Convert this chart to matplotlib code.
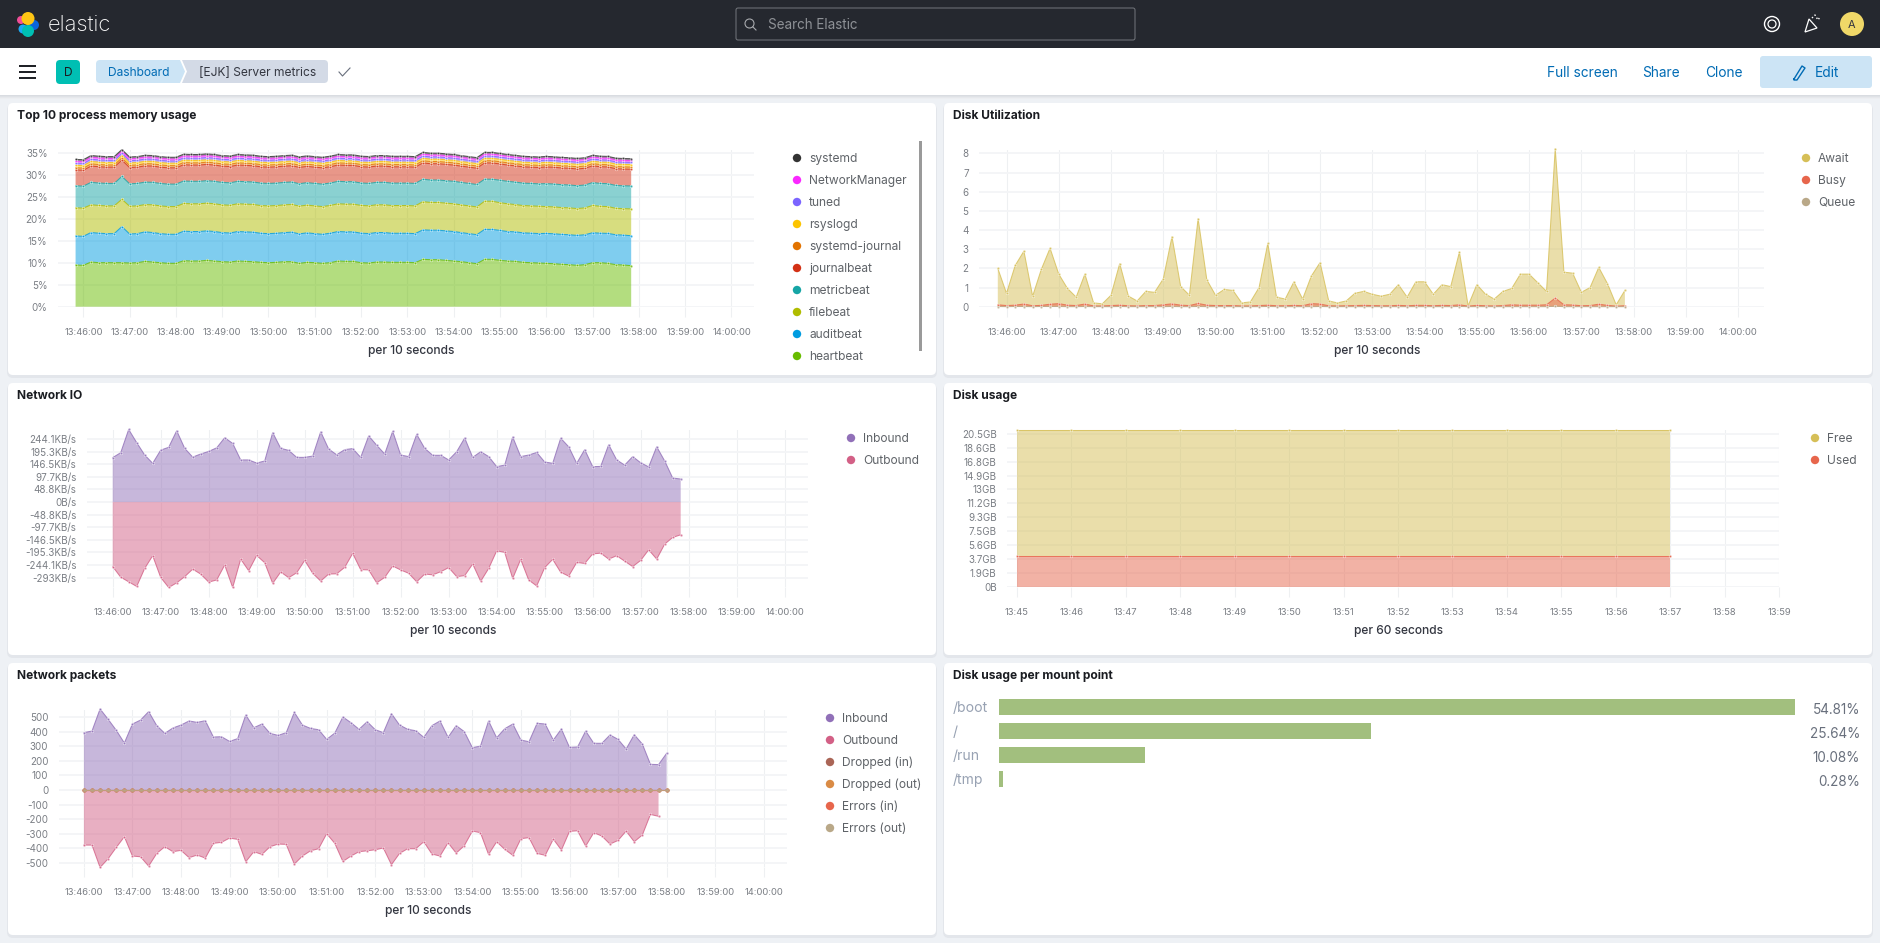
import numpy as np
import matplotlib
matplotlib.use("Agg")
import matplotlib.pyplot as plt
from matplotlib.patches import FancyBboxPatch, Rectangle, Circle, Polygon

plt.rcParams["font.family"] = ["Inter", "DejaVu Sans"]

W, H = 1880, 943

# clock labels
clock_labels = ["13:46:00", "13:47:00", "13:48:00", "13:49:00", "13:50:00", "13:51:00", "13:52:00", "13:53:00",
                "13:54:00", "13:55:00", "13:56:00", "13:57:00", "13:58:00", "13:59:00", "14:00:00"]
clock_seconds = [0, 60, 120, 180, 240, 300, 360, 420, 480, 540, 600, 660, 720, 780, 840]
disk_labels = ["13:45", "13:46", "13:47", "13:48", "13:49", "13:50", "13:51", "13:52", "13:53", "13:54", "13:55",
               "13:56", "13:57", "13:58", "13:59"]

# Top 10 process memory usage (percent, bottom layer first), sampled from -10 s every 10 s
heartbeat = [9.47, 9.39, 10.15, 10.0, 10.0, 10.0, 10.0, 9.92, 10.0, 10.3, 10.15, 10.0, 9.85, 9.85, 10.45, 10.38,
             10.38, 10.53, 10.38, 10.23, 10.15, 10.38, 10.3, 10.23, 10.08, 10.0, 10.08, 10.23, 10.23, 9.85, 10.08,
             10.0, 9.85, 10.0, 10.38, 10.3, 10.3, 10.0, 9.92, 10.15, 10.15, 10.08, 10.08, 10.08, 10.0, 10.76, 10.68,
             10.68, 10.53, 10.38, 10.23, 10.0, 9.77, 10.76, 10.76, 10.53, 10.38, 10.3, 10.08, 10.0, 9.92, 9.85, 9.77,
             9.62, 9.55, 9.39, 9.55, 10.0, 10.0, 9.85, 9.55, 9.47, 9.32]
auditbeat = [6.6, 6.6, 6.7, 6.7, 6.6, 6.6, 8.2, 6.6, 6.6, 6.7, 6.7, 6.6, 6.6, 6.6, 6.7, 6.7, 6.7, 6.7, 6.7, 6.6, 6.6,
             6.7, 6.7, 6.7, 6.6, 6.6, 6.6, 6.6, 6.7, 6.7, 6.7, 6.6, 6.6, 6.7, 6.7, 6.7, 6.7, 6.7, 6.7, 6.7, 6.7, 6.6,
             6.6, 6.6, 6.6, 6.7, 6.7, 6.7, 6.7, 6.7, 6.6, 6.6, 6.6, 6.8, 6.8, 6.8, 6.7, 6.7, 6.7, 6.7, 6.7, 6.8, 6.8,
             6.8, 6.8, 6.8, 6.8, 6.8, 6.7, 6.8, 6.8, 6.8, 6.8]
filebeat = [6.4, 6.4, 6.3, 6.3, 6.3, 6.3, 6.2, 6.3, 6.3, 6.2, 6.3, 6.3, 6.3, 6.3, 6.3, 6.3, 6.3, 6.3, 6.3, 6.3, 6.3,
            6.3, 6.3, 6.3, 6.3, 6.3, 6.3, 6.3, 6.3, 6.3, 6.3, 6.3, 6.3, 6.3, 6.3, 6.3, 6.3, 6.3, 6.3, 6.3, 6.3, 6.3,
            6.3, 6.3, 6.3, 6.4, 6.3, 6.3, 6.3, 6.3, 6.3, 6.3, 6.3, 6.4, 6.4, 6.3, 6.3, 6.2, 6.2, 6.2, 6.2, 6.1, 6.1,
            6.1, 6.1, 6.1, 6.1, 6.2, 6.1, 6.1, 6.0, 6.0, 6.1]
metricbeat = [5.0, 5.0, 5.1, 5.1, 5.1, 5.1, 5.2, 5.1, 5.1, 5.1, 5.1, 5.1, 5.1, 5.1, 5.1, 5.1, 5.1, 5.1, 5.1, 5.1, 5.1,
              5.1, 5.1, 5.1, 5.1, 5.1, 5.1, 5.1, 5.1, 5.1, 5.1, 5.1, 5.1, 5.1, 5.1, 5.1, 5.1, 5.1, 5.1, 5.1, 5.1, 5.1,
              5.1, 5.1, 5.1, 5.1, 5.1, 5.1, 5.1, 5.1, 5.1, 5.1, 5.1, 5.0, 5.0, 5.1, 5.1, 5.1, 5.1, 5.1, 5.1, 5.2, 5.2,
              5.2, 5.2, 5.2, 5.2, 5.2, 5.2, 5.2, 5.2, 5.2, 5.2]
journalbeat = [3.6, 3.6, 3.7, 3.7, 3.7, 3.7, 3.7, 3.7, 3.7, 3.7, 3.7, 3.7, 3.7, 3.7, 3.7, 3.7, 3.7, 3.7, 3.7, 3.7, 3.7,
               3.7, 3.7, 3.7, 3.7, 3.7, 3.7, 3.7, 3.7, 3.7, 3.7, 3.7, 3.7, 3.7, 3.7, 3.7, 3.7, 3.7, 3.7, 3.7, 3.7, 3.7,
               3.7, 3.7, 3.7, 3.7, 3.7, 3.7, 3.7, 3.7, 3.7, 3.7, 3.7, 3.7, 3.7, 3.7, 3.7, 3.7, 3.7, 3.7, 3.7, 3.8, 3.8,
               3.8, 3.8, 3.8, 3.8, 3.8, 3.8, 3.8, 3.8, 3.8, 3.8]
systemd_journal = [0.5, 0.5, 0.5, 0.5, 0.5, 0.5, 0.5, 0.5, 0.5, 0.5, 0.5, 0.5, 0.5, 0.5, 0.5, 0.5, 0.5, 0.5, 0.5, 0.5, 0.5,
                   0.5, 0.5, 0.5, 0.5, 0.5, 0.5, 0.5, 0.5, 0.5, 0.5, 0.5, 0.5, 0.5, 0.5, 0.5, 0.5, 0.5, 0.5, 0.5, 0.5,
                   0.5, 0.5, 0.5, 0.5, 0.5, 0.5, 0.5, 0.5, 0.5, 0.5, 0.5, 0.5, 0.5, 0.5, 0.5, 0.5, 0.5, 0.5, 0.5, 0.5,
                   0.5, 0.5, 0.5, 0.5, 0.5, 0.5, 0.5, 0.5, 0.5, 0.5, 0.5, 0.5]
rsyslogd = [0.55, 0.55, 0.55, 0.55, 0.55, 0.55, 0.55, 0.55, 0.55, 0.55, 0.55, 0.55, 0.55, 0.55, 0.55, 0.55, 0.55, 0.55,
            0.55, 0.55, 0.55, 0.55, 0.55, 0.55, 0.55, 0.55, 0.55, 0.55, 0.55, 0.55, 0.55, 0.55, 0.55, 0.55, 0.55, 0.55,
            0.55, 0.55, 0.55, 0.55, 0.55, 0.55, 0.55, 0.55, 0.55, 0.55, 0.55, 0.55, 0.55, 0.55, 0.55, 0.55, 0.55, 0.55,
            0.55, 0.55, 0.55, 0.55, 0.55, 0.55, 0.55, 0.55, 0.55, 0.55, 0.55, 0.55, 0.55, 0.55, 0.55, 0.55, 0.55, 0.55,
            0.55]
tuned = [0.5, 0.5, 0.5, 0.5, 0.5, 0.5, 0.5, 0.5, 0.5, 0.5, 0.5, 0.5, 0.5, 0.5, 0.5, 0.5, 0.5, 0.5, 0.5, 0.5, 0.5,
         0.5, 0.5, 0.5, 0.5, 0.5, 0.5, 0.5, 0.5, 0.5, 0.5, 0.5, 0.5, 0.5, 0.5, 0.5, 0.5, 0.5, 0.5, 0.5, 0.5,
         0.5, 0.5, 0.5, 0.5, 0.5, 0.5, 0.5, 0.5, 0.5, 0.5, 0.5, 0.5, 0.5, 0.5, 0.5, 0.5, 0.5, 0.5, 0.5, 0.5,
         0.5, 0.5, 0.5, 0.5, 0.5, 0.5, 0.5, 0.5, 0.5, 0.5, 0.5, 0.5]
network_manager = [0.45, 0.45, 0.45, 0.45, 0.45, 0.45, 0.45, 0.45, 0.45, 0.45, 0.45, 0.45, 0.45, 0.45, 0.45, 0.45, 0.45,
                   0.45, 0.45, 0.45, 0.45, 0.45, 0.45, 0.45, 0.45, 0.45, 0.45, 0.45, 0.45, 0.45, 0.45, 0.45, 0.45, 0.45,
                   0.45, 0.45, 0.45, 0.45, 0.45, 0.45, 0.45, 0.45, 0.45, 0.45, 0.45, 0.45, 0.45, 0.45, 0.45, 0.45, 0.45,
                   0.45, 0.45, 0.45, 0.45, 0.45, 0.45, 0.45, 0.45, 0.45, 0.45, 0.45, 0.45, 0.45, 0.45, 0.45, 0.45, 0.45,
                   0.45, 0.45, 0.45, 0.45, 0.45]
systemd = [0.4, 0.4, 0.4, 0.4, 0.4, 0.4, 0.4, 0.4, 0.4, 0.4, 0.4, 0.4, 0.4, 0.4, 0.4, 0.4, 0.4, 0.4, 0.4, 0.4, 0.4,
           0.4, 0.4, 0.4, 0.4, 0.4, 0.4, 0.4, 0.4, 0.4, 0.4, 0.4, 0.4, 0.4, 0.4, 0.4, 0.4, 0.4, 0.4, 0.4, 0.4,
           0.4, 0.4, 0.4, 0.4, 0.4, 0.4, 0.4, 0.4, 0.4, 0.4, 0.4, 0.4, 0.4, 0.4, 0.4, 0.4, 0.4, 0.4, 0.4, 0.4,
           0.4, 0.4, 0.4, 0.4, 0.4, 0.4, 0.4, 0.4, 0.4, 0.4, 0.4, 0.4]
memory_names = ["systemd", "NetworkManager", "tuned", "rsyslogd", "systemd-journal", "journalbeat", "metricbeat",
                "filebeat", "auditbeat", "heartbeat"]
memory_colors = ["#333333", "#fa28ff", "#7b64ff", "#fcc400", "#e27300", "#d33115", "#16a5a5", "#b0bc00", "#009ce0",
                 "#68bc00"]
memory_ticks = [0, 5, 10, 15, 20, 25, 30, 35]

# Disk Utilization
disk_await = [2.0, 0.7, 2.15, 2.9, 0.55, 1.95, 3.05, 1.7, 0.95, 0.5, 1.7, 0.2, 0.15, 0.6, 2.25, 0.55, 0.3, 0.8, 0.75,
              1.45, 3.65, 1.05, 0.6, 4.6, 1.4, 0.6, 0.9, 0.85, 0.2, 0.25, 1.0, 3.3, 0.5, 0.4, 1.3, 0.4, 1.6, 2.3, 0.3,
              0.2, 0.3, 0.7, 0.8, 0.65, 0.55, 0.65, 1.15, 0.5, 1.3, 1.3, 0.65, 1.15, 1.05, 2.85, 0.05, 1.15, 0.65, 0.4,
              0.8, 0.95, 1.7, 1.7, 1.25, 0.8, 8.25, 1.8, 1.75, 0.75, 1.0, 2.05, 1.2, 0.1, 0.85]
disk_busy = [0.1, 0.06, 0.08, 0.14, 0.05, 0.07, 0.13, 0.16, 0.08, 0.06, 0.14, 0.04, 0.04, 0.06, 0.08, 0.05, 0.04, 0.06,
             0.06, 0.1, 0.15, 0.08, 0.06, 0.17, 0.08, 0.06, 0.06, 0.06, 0.04, 0.04, 0.06, 0.08, 0.05, 0.05, 0.07, 0.05,
             0.16, 0.14, 0.05, 0.04, 0.05, 0.06, 0.07, 0.06, 0.05, 0.05, 0.07, 0.05, 0.07, 0.07, 0.05, 0.07, 0.06, 0.1,
             0.03, 0.07, 0.05, 0.04, 0.06, 0.1, 0.08, 0.08, 0.08, 0.1, 0.45, 0.1, 0.09, 0.05, 0.06, 0.13, 0.07, 0.03,
             0.05]
disk_queue = [0.01, 0.0, 0.01, 0.01, 0.0, 0.01, 0.01, 0.01, 0.0, 0.0, 0.01, 0.0, 0.0, 0.0, 0.01, 0.0, 0.0, 0.0, 0.0,
              0.0, 0.01, 0.0, 0.0, 0.01, 0.0, 0.0, 0.0, 0.0, 0.0, 0.0, 0.0, 0.01, 0.0, 0.0, 0.0, 0.0, 0.0, 0.01, 0.0,
              0.0, 0.0, 0.0, 0.0, 0.0, 0.0, 0.0, 0.0, 0.0, 0.0, 0.0, 0.0, 0.0, 0.0, 0.01, 0.0, 0.0, 0.0, 0.0, 0.0,
              0.0, 0.0, 0.0, 0.0, 0.0, 0.03, 0.0, 0.0, 0.0, 0.0, 0.0, 0.0, 0.0, 0.0]
disk_ticks = [0, 1, 2, 3, 4, 5, 6, 7, 8]

# Network IO (KB/s), sampled from 0 s every 10 s
io_inbound = [172, 191, 281, 230, 182, 150, 201, 212, 276, 208, 174, 186, 196, 210, 249, 227, 163, 163, 151, 159, 269,
              208, 200, 173, 173, 178, 272, 205, 183, 203, 207, 173, 256, 220, 186, 274, 182, 176, 262, 208, 181, 181,
              163, 195, 248, 173, 195, 176, 137, 143, 252, 176, 182, 192, 155, 150, 247, 214, 150, 203, 137, 138, 222,
              163, 143, 176, 152, 136, 214, 159, 93, 89]
io_outbound = [-250, -291, -309, -327, -257, -208, -292, -331, -313, -289, -260, -279, -310, -302, -244, -331, -221,
               -266, -207, -235, -315, -271, -293, -274, -226, -276, -306, -279, -278, -253, -199, -262, -263, -313,
               -292, -248, -263, -276, -309, -279, -282, -270, -254, -289, -285, -240, -307, -257, -189, -195, -296,
               -222, -302, -325, -254, -222, -272, -287, -234, -238, -201, -198, -221, -208, -229, -250, -226, -185,
               -221, -163, -137, -127]
io_ticks = [-293, -244.1, -195.3, -146.5, -97.7, -48.8, 0, 48.8, 97.7, 146.5, 195.3, 244.1]
io_tick_labels = ["-293KB/s", "-244.1KB/s", "-195.3KB/s", "-146.5KB/s", "-97.7KB/s", "-48.8KB/s", "0B/s", "48.8KB/s",
                  "97.7KB/s", "146.5KB/s", "195.3KB/s", "244.1KB/s"]

# Network packets
pk_inbound = [393, 404, 555, 484, 409, 322, 452, 479, 537, 441, 388, 425, 445, 473, 463, 475, 363, 365, 333, 352, 514,
              427, 452, 388, 374, 393, 532, 445, 422, 413, 347, 390, 500, 461, 416, 468, 413, 393, 523, 445, 416, 406,
              361, 441, 473, 361, 441, 400, 290, 301, 473, 358, 420, 452, 342, 331, 457, 452, 342, 418, 292, 295, 404,
              320, 320, 377, 347, 281, 379, 315, 176, 174, 251]
pk_outbound = [-377, -377, -530, -470, -393, -320, -452, -457, -521, -434, -388, -422, -413, -463, -445, -466, -365,
               -358, -329, -338, -491, -422, -441, -388, -370, -372, -507, -452, -416, -402, -299, -365, -489, -452,
               -422, -416, -409, -397, -511, -434, -402, -402, -354, -438, -452, -361, -432, -381, -281, -292, -441,
               -354, -406, -447, -333, -326, -434, -447, -336, -411, -283, -279, -384, -292, -315, -370, -345, -281,
               -354, -308, -167, -180]
pk_flat = [0, 0, 0, 0, 0, 0, 0, 0, 0, 0, 0, 0, 0, 0, 0, 0, 0, 0, 0, 0, 0, 0, 0, 0, 0, 0, 0, 0, 0, 0, 0, 0, 0, 0, 0, 0, 0,
           0, 0, 0, 0, 0, 0, 0, 0, 0, 0, 0, 0, 0, 0, 0, 0, 0, 0, 0, 0, 0, 0, 0, 0, 0, 0, 0, 0, 0, 0, 0, 0, 0, 0, 0, 0]
pk_ticks = [-500, -400, -300, -200, -100, 0, 100, 200, 300, 400, 500]
pk_names = ["Inbound", "Outbound", "Dropped (in)", "Dropped (out)", "Errors (in)", "Errors (out)"]
pk_colors = ["#9170b8", "#d36086", "#aa6556", "#da8b45", "#e7664c", "#b9a888"]

# Disk usage (GB, stacked)
usage_minutes = [0, 1, 2, 3, 4, 5, 6, 7, 8, 9, 10, 11, 12]
usage_used = [4.19, 4.19, 4.19, 4.19, 4.19, 4.19, 4.19, 4.19, 4.19, 4.19, 4.19, 4.19, 4.19]
usage_free = [16.84, 16.84, 16.84, 16.84, 16.84, 16.84, 16.84, 16.84, 16.84, 16.84, 16.84, 16.84, 16.84]
usage_ticks = [0, 1.86, 3.73, 5.59, 7.45, 9.31, 11.18, 13.04, 14.9, 16.76, 18.63, 20.49]
usage_tick_labels = ["0B", "1.9GB", "3.7GB", "5.6GB", "7.5GB", "9.3GB", "11.2GB", "13GB", "14.9GB", "16.8GB", "18.6GB",
                     "20.5GB"]

# Disk usage per mount point
mounts = ["/boot", "/", "/run", "/tmp"]
mount_pct = [54.81, 25.64, 10.08, 0.28]

GRID_H = "#f4f5f7"
GRID_V = "#eef0f2"
TICK_TXT = "#7b7f85"
LEGEND_TXT = "#5f6368"


def pt(px):
    return px * 0.72


fig = plt.figure(figsize=(W / 100, H / 100), dpi=100)
bg = fig.add_axes([0, 0, 1, 1])
bg.set_xlim(0, W)
bg.set_ylim(H, 0)
bg.axis("off")
fig.patch.set_facecolor("#eef1f5")


def rrect(x0, y0, x1, y1, r, color, zorder=1, **kw):
    p = FancyBboxPatch((x0 + r, y0 + r), x1 - x0 - 2 * r, y1 - y0 - 2 * r, boxstyle=f"round,pad={r}",
                       facecolor=color, edgecolor=kw.pop("edgecolor", "none"), zorder=zorder, **kw)
    bg.add_patch(p)
    return p


def card(x0, y0, x1, y1, title):
    rrect(x0 - 1, y0 + 1, x1 + 1, y1 + 3, 6, "#e3e6eb", zorder=1)
    rrect(x0, y0, x1, y1, 5, "white", zorder=2)
    bg.text(x0 + 9, y0 + 13, title, fontsize=pt(12), fontweight="bold", color="#1a1c21", va="center", zorder=3)


def legend(dot_x, text_x, first_y, names, colors):
    for i, (n, c) in enumerate(zip(names, colors)):
        y = first_y + 22 * i
        bg.add_patch(Circle((dot_x, y), 4.2, facecolor=c, edgecolor="none", zorder=3))
        bg.text(text_x, y + 1, n, fontsize=pt(12), color=LEGEND_TXT, va="center", zorder=3)


def chart_axes(left, right, top, bottom, tick0_px, px_per_unit, ylim, xticks, xlabels, yticks, ylabels, xlabel_x):
    ax = fig.add_axes([left / W, 1 - bottom / H, (right - left) / W, (bottom - top) / H])
    ax.patch.set_alpha(0)
    ax.set_xlim((left - tick0_px) / px_per_unit, (right - tick0_px) / px_per_unit)
    ax.set_ylim(*ylim)
    ax.set_xticks(xticks)
    ax.set_xticklabels(xlabels, fontsize=pt(9.4), color=TICK_TXT)
    ax.set_yticks(yticks)
    ax.set_yticklabels(ylabels, fontsize=pt(9.8), color=TICK_TXT)
    ax.tick_params(axis="x", length=7, width=0.8, color=GRID_V, pad=8.6)
    ax.tick_params(axis="y", length=0, pad=7.5)
    ax.grid(axis="y", color=GRID_H, lw=1.4)
    ax.grid(axis="x", color=GRID_V, lw=0.8)
    ax.set_axisbelow(True)
    for s in ax.spines.values():
        s.set_visible(False)
    bg.text(xlabel_x, bottom + 44, "per 10 seconds" if len(xlabels[0]) > 5 else "per 60 seconds",
            fontsize=pt(12), fontweight="medium", color="#343741", ha="center", va="center", zorder=3)
    return ax


def area(ax, x, y0, y1, color, alpha=0.5):
    ax.fill_between(x, y0, y1, facecolor=color, edgecolor="none", alpha=alpha, clip_on=False, zorder=3)
    ax.plot(x, y1, color=color, lw=0.75, marker="o", ms=1.9, mfc=color, mew=0.4, mec="#ffffffa0", alpha=0.8,
            clip_on=False, zorder=4)


# page chrome
bg.add_patch(Rectangle((0, 0), W, 48, facecolor="#25282f", edgecolor="none", zorder=5))
for i, c in enumerate(["#d9dce1", "#dfe2e6", "#e6e8ec", "#eceef1"]):
    bg.add_patch(Rectangle((0, 95 + i), W, 1, facecolor=c, edgecolor="none", zorder=4))
bg.add_patch(Rectangle((0, 48), W, 47, facecolor="white", edgecolor="none", zorder=5))

# logo
for (cx, cy, r, c) in [(23, 29, 4.5, "#1ba9f5"), (21, 20, 4, "#f04e98"), (34, 25, 5, "#0b64dd"), (28, 18.5, 6.5, "#fec514"),
                       (28, 31, 6, "#00bfb3")]:
    bg.add_patch(Circle((cx, cy), r, facecolor=c, edgecolor="none", zorder=6))
bg.text(48, 25, "elastic", color="white", fontsize=pt(22), fontweight="light", va="center", zorder=6)

# search box
rrect(736, 8, 1135, 40, 2, "#25282f", zorder=6, edgecolor="#75787e", linewidth=0.7)
bg.add_patch(Circle((749.5, 23.5), 4.5, facecolor="none", edgecolor="#a7a9ad", lw=0.8, zorder=7))
bg.plot([753, 756], [27, 30], color="#a7a9ad", lw=0.8, zorder=7)
bg.text(768, 25, "Search Elastic", color="#8e9196", fontsize=pt(13.5), va="center", zorder=7)

# header icons
bg.add_patch(Circle((1772, 24), 7.5, facecolor="none", edgecolor="white", lw=1.0, zorder=6))
bg.add_patch(Circle((1772, 24), 4, facecolor="none", edgecolor="white", lw=0.9, zorder=6))
bg.add_patch(Polygon([[1805, 32], [1809, 19], [1817, 28]], closed=True, facecolor="none", edgecolor="white", lw=0.9,
                     zorder=6))
bg.plot([1812, 1815, 1818, 1820], [18, 15, 20, 17], color="white", lw=1, ls=":", zorder=6)
bg.add_patch(Circle((1852, 24), 12, facecolor="#f0d868", edgecolor="none", zorder=6))
bg.text(1852, 25, "A", color="#343741", fontsize=pt(11), ha="center", va="center", zorder=7)

# second bar
for y in (66, 72, 78):
    bg.plot([19, 36], [y, y], color="#1a1c21", lw=1.4, zorder=6, solid_capstyle="butt")
rrect(56, 60, 80, 84, 4, "#00bfb3", zorder=6)
bg.text(68, 73, "D", color="#1a1c21", fontsize=pt(12), ha="center", va="center", zorder=7)
rrect(300, 60, 328, 83, 4, "#d3dae6", zorder=6)
bg.add_patch(Polygon([[182, 60], [310, 60], [310, 83], [182, 83], [187, 71.5]], closed=True, facecolor="#d3dae6",
                     edgecolor="none", zorder=6))
rrect(96, 60, 176, 83, 4, "#cce4f5", zorder=6)
bg.add_patch(Polygon([[170, 60], [180, 60], [185, 71.5], [180, 83], [170, 83]], closed=True, facecolor="#cce4f5",
                     edgecolor="none", zorder=6))
bg.text(108, 73, "Dashboard", color="#006bb4", fontsize=pt(12), va="center", zorder=7)
bg.text(199, 73, "[EJK] Server metrics", color="#343741", fontsize=pt(12), va="center", zorder=7)
bg.plot([339, 342.5, 350], [72, 76, 68], color="#69707d", lw=0.8, zorder=7)
bg.text(1547, 73, "Full screen", color="#006bb4", fontsize=pt(13.7), va="center", zorder=7)
bg.text(1642.6, 73, "Share", color="#006bb4", fontsize=pt(13.7), va="center", zorder=7)
bg.text(1705.6, 73, "Clone", color="#006bb4", fontsize=pt(13.7), va="center", zorder=7)
rrect(1760, 56, 1872, 88, 3, "#cce4f5", zorder=6)
bg.plot([1794, 1802, 1805, 1797, 1794, 1794], [79, 66, 68, 80, 80, 79], color="#006bb4", lw=1.0, zorder=7)
bg.text(1815, 73, "Edit", color="#006bb4", fontsize=pt(13.7), va="center", zorder=7)

# cards
card(8, 103, 936, 375, "Top 10 process memory usage")
card(944, 103, 1872, 375, "Disk Utilization")
card(8, 383, 936, 655, "Network IO")
card(944, 383, 1872, 655, "Disk usage")
card(8, 663, 936, 935, "Network packets")
card(944, 663, 1872, 935, "Disk usage per mount point")

# Top 10 process memory usage
ax = chart_axes(58, 754, 150, 306.7, 83.3, 46.3 / 60, (0, 35.6), clock_seconds, clock_labels, memory_ticks,
                [f"{v}%" for v in memory_ticks], 411)
t = np.arange(len(heartbeat)) * 10 - 10
stack = [heartbeat, auditbeat, filebeat, metricbeat, journalbeat, systemd_journal, rsyslogd, tuned, network_manager,
         systemd]
base = np.zeros(len(heartbeat))
for vals, c in zip(stack, memory_colors[::-1]):
    top = base + np.array(vals)
    area(ax, t, base, top, c)
    base = top
legend(797, 809, 158, memory_names, memory_colors)
bg.add_patch(Rectangle((918.5, 141), 3, 210, facecolor="#9a9a9a", edgecolor="none", zorder=3))

# Disk Utilization
ax = chart_axes(979, 1764.4, 150, 306.7, 1006.5, 52.26 / 60, (0, 8.175), clock_seconds, clock_labels, disk_ticks,
                [str(v) for v in disk_ticks], 1377)
zero = np.zeros(len(disk_await))
t = np.arange(len(disk_await)) * 10 - 10
area(ax, t, zero, disk_await, "#d6bf57")
area(ax, t, zero, disk_busy, "#e7664c")
area(ax, t, zero, disk_queue, "#b9a888")
legend(1806, 1818, 158, ["Await", "Busy", "Queue"], ["#d6bf57", "#e7664c", "#b9a888"])

# Network IO
ax = chart_axes(87, 808, 430, 586.7, 112.7, 48.0 / 60, (-328, 279), clock_seconds, clock_labels, io_ticks,
                io_tick_labels, 453)
t = np.arange(len(io_inbound)) * 10
area(ax, t, np.zeros(len(t)), io_inbound, "#9170b8")
area(ax, t, np.zeros(len(t)), io_outbound, "#d36086")
legend(851, 863, 438, ["Inbound", "Outbound"], ["#9170b8", "#d36086"])

# Disk usage
ax = chart_axes(1007, 1779.3, 430, 586.8, 1016.7, 54.47, (0, 21.0), np.arange(15), disk_labels, usage_ticks,
                usage_tick_labels, 1398)
used = np.array(usage_used)
total = used + np.array(usage_free)
area(ax, usage_minutes, used, total, "#d6bf57")
area(ax, usage_minutes, np.zeros(len(used)), used, "#e7664c")
legend(1815, 1827, 438, ["Free", "Used"], ["#d6bf57", "#e7664c"])

# Network packets
ax = chart_axes(58.7, 787, 710, 866.7, 83.9, 48.56 / 60, (-525, 548), clock_seconds, clock_labels, pk_ticks,
                [str(v) for v in pk_ticks], 428)
t = np.arange(len(pk_inbound)) * 10
area(ax, t, np.zeros(len(t)), pk_inbound, pk_colors[0])
area(ax, t[:-1], np.zeros(len(t) - 1), pk_outbound, pk_colors[1])
for c in pk_colors[2:]:
    ax.plot(t, pk_flat, color=c, lw=0.75, marker="o", ms=2.4, mew=0.4, mfc=c, mec=c, alpha=0.8, clip_on=False, zorder=5)
legend(830, 842, 718, pk_names, pk_colors)

# Disk usage per mount point
ax = fig.add_axes([998.8 / W, 1 - 791 / H, 796.1 / W, 96 / H])
ax.patch.set_alpha(0)
ax.barh(np.arange(len(mounts)), mount_pct, height=16.2 / 24, color="#a2bf7e")
ax.set_xlim(0, max(mount_pct))
ax.set_ylim(len(mounts) - 0.5, -0.5)
ax.axis("off")
for i, (m, p) in enumerate(zip(mounts, mount_pct)):
    y = 708 + 24 * i
    bg.text(952.6, y, m, fontsize=pt(14), color="#98a2b3", va="center", zorder=3)
    bg.text(1860, y + 2, f"{p:.2f}%", fontsize=pt(13.5), color="#69707d", ha="right", va="center", zorder=3)

fig.savefig("out.png", dpi=100, facecolor=fig.get_facecolor())
